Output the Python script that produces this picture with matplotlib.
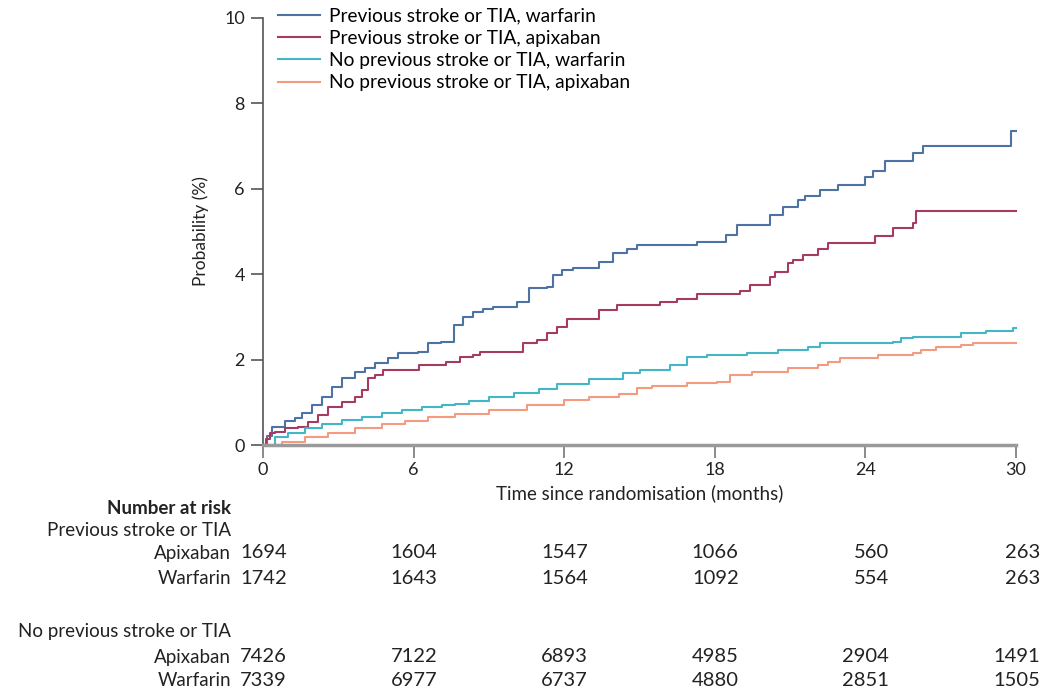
import matplotlib
matplotlib.use("Agg")
import matplotlib.pyplot as plt
from matplotlib.transforms import blended_transform_factory

plt.rcParams["font.family"] = ["Lato", "DejaVu Sans"]

# Kaplan-Meier style cumulative probability (%) by month
PREV_WARFARIN_T = [0, 0.15, 0.35, 0.88, 1.27, 1.54, 1.94, 2.34, 2.74, 3.14, 3.67, 4.06,
                   4.46, 4.98, 5.38, 6.18, 6.57, 7.1, 7.6, 7.97, 8.37, 8.76, 9.16, 10.1,
                   10.6, 11.3, 11.55, 11.9, 12.35, 13.4, 13.95, 14.5, 14.9, 17.3, 18.45,
                   18.9, 20.2, 20.7, 21.3, 21.6, 22.2, 22.9, 24.0, 24.3, 24.8, 25.9, 26.3,
                   29.8, 30]
PREV_WARFARIN_P = [0, 0.2, 0.43, 0.57, 0.63, 0.75, 0.94, 1.13, 1.36, 1.57, 1.72, 1.8,
                   1.92, 2.03, 2.16, 2.18, 2.38, 2.42, 2.81, 3.0, 3.12, 3.18, 3.24, 3.36,
                   3.67, 3.7, 3.98, 4.1, 4.14, 4.29, 4.49, 4.6, 4.68, 4.76, 4.92,
                   5.15, 5.39, 5.57, 5.74, 5.82, 5.97, 6.09, 6.28, 6.42, 6.64, 6.83, 7.01,
                   7.36, 7.36]

PREV_APIXABAN_T = [0, 0.1, 0.28, 0.48, 0.88, 1.4, 1.8, 2.2, 2.6, 3.14, 3.67, 3.93, 4.2,
                   4.46, 4.8, 6.2, 7.3, 7.85, 8.37, 8.65, 10.36, 10.9, 11.3, 11.7, 12.1,
                   13.4, 14.1, 15.8, 16.5, 17.3, 19.0, 19.4, 20.2, 20.4, 20.9, 21.1, 21.5,
                   22.1, 22.5, 24.4, 25.1, 25.9, 26.0, 30]
PREV_APIXABAN_P = [0, 0.15, 0.28, 0.31, 0.39, 0.43, 0.55, 0.7, 0.9, 1.01, 1.13, 1.29, 1.57,
                   1.64, 1.76, 1.87, 1.95, 2.07, 2.11, 2.18, 2.38, 2.46, 2.62, 2.77, 2.95,
                   3.16, 3.28, 3.36, 3.42, 3.53, 3.61, 3.75, 3.94, 4.06, 4.26, 4.33, 4.45,
                   4.59, 4.73, 4.89, 5.08, 5.2, 5.48, 5.48]

NOPREV_WARFARIN_T = [0, 0.48, 1.0, 1.67, 2.34, 3.14, 3.93, 4.73, 5.53, 6.32, 7.12, 7.65,
                     8.2, 9.0, 10.0, 11.0, 11.7, 13.0, 14.35, 15.0, 16.2, 16.9, 17.7, 19.3,
                     20.5, 21.7, 22.2, 25.1, 25.4, 25.9, 27.8, 28.8, 29.9, 30]
NOPREV_WARFARIN_P = [0, 0.19, 0.27, 0.39, 0.49, 0.59, 0.66, 0.74, 0.82, 0.88, 0.94, 0.96,
                     1.02, 1.12, 1.22, 1.3, 1.42, 1.55, 1.68, 1.76, 1.87, 2.07, 2.11, 2.15,
                     2.22, 2.3, 2.38, 2.42, 2.5, 2.54, 2.62, 2.68, 2.74, 2.74]

NOPREV_APIXABAN_T = [0, 0.75, 1.67, 2.6, 3.67, 4.73, 5.66, 6.57, 7.65, 9.0, 10.5, 12.0,
                     13.0, 14.2, 14.9, 15.5, 16.9, 18.1, 18.6, 19.5, 20.9, 22.1, 22.5, 23.0,
                     24.5, 25.9, 26.2, 26.8, 27.8, 28.3, 30]
NOPREV_APIXABAN_P = [0, 0.08, 0.19, 0.29, 0.39, 0.49, 0.57, 0.65, 0.73, 0.83, 0.94, 1.05,
                     1.13, 1.19, 1.33, 1.38, 1.45, 1.48, 1.64, 1.72, 1.8, 1.87, 1.95, 2.03,
                     2.11, 2.16, 2.22, 2.3, 2.34, 2.4, 2.4]

SERIES_LABELS = [
    "Previous stroke or TIA, warfarin",
    "Previous stroke or TIA, apixaban",
    "No previous stroke or TIA, warfarin",
    "No previous stroke or TIA, apixaban",
]

RISK_MONTHS = [0, 6, 12, 18, 24, 30]
RISK_PREV_APIXABAN = [1694, 1604, 1547, 1066, 560, 263]
RISK_PREV_WARFARIN = [1742, 1643, 1564, 1092, 554, 263]
RISK_NOPREV_APIXABAN = [7426, 7122, 6893, 4985, 2904, 1491]
RISK_NOPREV_WARFARIN = [7339, 6977, 6737, 4880, 2851, 1505]

COLORS = ["#4d73a3", "#a53a62", "#45b6c6", "#f29b80"]
FONT_SIZE = 13.5


def main():
    fig = plt.figure(figsize=(10.43, 6.95), dpi=100)
    ax = fig.add_axes([263 / 1043, 1 - 445 / 695, 753 / 1043, 427 / 695])

    curves = [
        (PREV_WARFARIN_T, PREV_WARFARIN_P),
        (PREV_APIXABAN_T, PREV_APIXABAN_P),
        (NOPREV_WARFARIN_T, NOPREV_WARFARIN_P),
        (NOPREV_APIXABAN_T, NOPREV_APIXABAN_P),
    ]
    for (t, p), color, label in zip(curves, COLORS, SERIES_LABELS):
        ax.plot(t, p, drawstyle="steps-post", color=color, lw=1.5,
                label=label, clip_on=False)

    ax.set_xlim(0, 30)
    ax.set_ylim(0, 10)
    ax.set_xticks(RISK_MONTHS)
    ax.set_yticks([0, 2, 4, 6, 8, 10])

    for side in ["top", "right"]:
        ax.spines[side].set_visible(False)
    ax.spines["left"].set_color("#555555")
    ax.spines["left"].set_linewidth(1.2)
    ax.spines["bottom"].set_color("#9a9a9a")
    ax.spines["bottom"].set_linewidth(2.5)

    ax.tick_params(axis="y", length=9, width=1.2, color="#555555",
                   labelsize=13, labelcolor="#222222", pad=4)
    ax.tick_params(axis="x", length=9, width=1.2, color="#777777",
                   labelsize=13, labelcolor="#222222", pad=3)

    ax.set_xlabel("Time since randomisation (months)", fontsize=FONT_SIZE,
                  color="#222222", labelpad=5)
    ax.set_ylabel("Probability (%)", fontsize=12.5, color="#222222",
                  labelpad=11)

    ax.legend(loc="upper left", bbox_to_anchor=(0.02, 1.025), frameon=False,
              fontsize=13.8, handlelength=2.2, handletextpad=0.45,
              labelspacing=0.28, borderpad=0, borderaxespad=0)

    # Number-at-risk table below the axis
    label_x = 231 / 1043
    fig_y = lambda py: 1 - py / 695
    text_kw = dict(fontsize=FONT_SIZE, color="#222222", va="center")
    fig.text(label_x, fig_y(509), "Number at risk", ha="right",
             fontweight="bold", **text_kw)
    fig.text(label_x, fig_y(531), "Previous stroke or TIA", ha="right", **text_kw)
    fig.text(label_x, fig_y(632), "No previous stroke or TIA", ha="right", **text_kw)

    trans = blended_transform_factory(ax.transData, fig.transFigure)
    rows = [
        ("Apixaban", RISK_PREV_APIXABAN, 553),
        ("Warfarin", RISK_PREV_WARFARIN, 578),
        ("Apixaban", RISK_NOPREV_APIXABAN, 657),
        ("Warfarin", RISK_NOPREV_WARFARIN, 681),
    ]
    for name, counts, py in rows:
        fig.text(label_x, fig_y(py), name, ha="right", **text_kw)
        for month, n in zip(RISK_MONTHS, counts):
            ax.text(month + 0.95, fig_y(py), str(n), ha="right",
                    transform=trans, clip_on=False, fontsize=14.5,
                    color="#222222", va="center")

    fig.savefig("out.png", dpi=100)
    plt.close(fig)


if __name__ == "__main__":
    main()
